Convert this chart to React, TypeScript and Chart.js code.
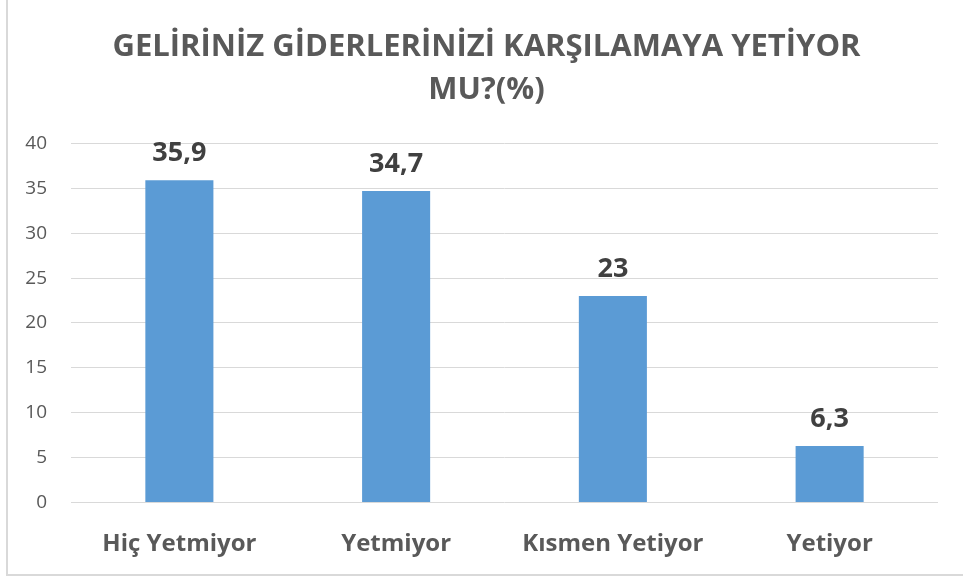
import React, { useEffect, useRef } from "react";
import { Chart, registerables } from "chart.js";

Chart.register(...registerables);

const categories = ["Hiç Yetmiyor", "Yetmiyor", "Kısmen Yetiyor", "Yetiyor"];
const values = [35.9, 34.7, 23, 6.3];
const titleLines = ["GELİRİNİZ GİDERLERİNİZİ KARŞILAMAYA YETİYOR", "MU?(%)"];
const yMin = 0;
const yMax = 40;
const yStep = 5;

const FONT = "'Open Sans'";

const dataLabelPlugin = {
  id: "dataLabels",
  afterDatasetsDraw(chart: any) {
    const ctx = chart.ctx;
    const meta = chart.getDatasetMeta(0);
    ctx.save();
    ctx.font = `bold 27px ${FONT}`;
    ctx.fillStyle = "#404040";
    ctx.textAlign = "center";
    ctx.textBaseline = "alphabetic";
    meta.data.forEach((bar: any, i: number) => {
      const label = String(values[i]).replace(".", ",");
      ctx.fillText(label, bar.x, bar.y - 19);
    });
    ctx.restore();
  },
};

export default function App() {
  const ref = useRef<HTMLCanvasElement | null>(null);
  useEffect(() => {
    if (!ref.current) return;
    const chart = new Chart(ref.current, {
      type: "bar",
      data: {
        labels: categories,
        datasets: [
          {
            data: values,
            backgroundColor: "#5B9BD5",
            borderWidth: 0,
            categoryPercentage: 1,
            barPercentage: 0.314,
          },
        ],
      },
      options: {
        animation: false,
        responsive: false,
        maintainAspectRatio: false,
        layout: { padding: { left: 10, right: 0, top: 0, bottom: 0 } },
        plugins: {
          legend: { display: false },
          tooltip: { enabled: false },
          title: {
            display: true,
            text: titleLines,
            color: "#595959",
            font: { family: FONT, size: 31, weight: "bold", lineHeight: 1.39 },
            padding: { top: 25.5, bottom: 31.8 },
          },
        },
        scales: {
          x: {
            grid: { display: false, drawTicks: false },
            border: { display: false },
            ticks: {
              color: "#595959",
              font: { family: FONT, size: 24, weight: "bold" },
              padding: 27,
              maxRotation: 0,
            },
            afterFit(scale: any) {
              scale.height = 76.5;
            },
          },
          y: {
            min: yMin,
            max: yMax,
            ticks: {
              stepSize: yStep,
              color: "#595959",
              font: { family: FONT, size: 19 },
              padding: 24,
            },
            grid: { color: "#d9d9d9", lineWidth: 1, drawTicks: false },
            border: { display: false },
            afterFit(scale: any) {
              scale.width = 61;
            },
          },
          yRight: {
            position: "right",
            display: true,
            min: yMin,
            max: yMax,
            grid: { display: false, drawTicks: false },
            border: { display: false },
            ticks: { display: false },
            afterFit(scale: any) {
              scale.width = 25;
            },
          },
        },
      },
      plugins: [dataLabelPlugin],
    });
    return () => chart.destroy();
  }, []);

  return (
    <div
      style={{
        position: "absolute",
        left: 0,
        top: 0,
        width: 963,
        height: 579,
        overflow: "hidden",
        background: "#ffffff",
      }}
    >
      <div
        style={{
          position: "absolute",
          left: 6,
          top: -5,
          right: -5,
          bottom: 3,
          border: "2px solid #d9d9d9",
        }}
      />
      <canvas
        ref={ref}
        width={963}
        height={579}
        style={{ position: "absolute", left: 0, top: 0, width: 963, height: 579 }}
      />
    </div>
  );
}
